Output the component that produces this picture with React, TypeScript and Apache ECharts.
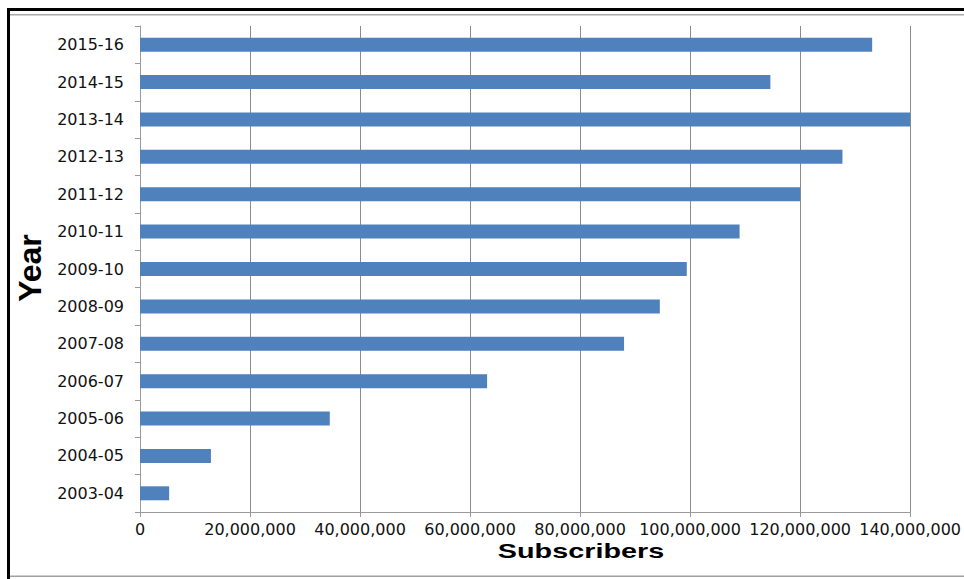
import React, { useEffect, useRef } from "react";
import * as echarts from "echarts";

const years = [
  "2003-04", "2004-05", "2005-06", "2006-07", "2007-08", "2008-09", "2009-10",
  "2010-11", "2011-12", "2012-13", "2013-14", "2014-15", "2015-16",
];
const subscribers = [
  5300000, 12900000, 34500000, 63100000, 88000000, 94500000, 99400000,
  109000000, 120000000, 127700000, 140000000, 114600000, 133100000,
];
const xTicks = [0, 20000000, 40000000, 60000000, 80000000, 100000000, 120000000, 140000000];
const xTitle = "Subscribers";
const yTitle = "Year";

const fmt = (v: number) => v.toLocaleString("en-US");

export default function App() {
  const ref = useRef<HTMLDivElement>(null);
  useEffect(() => {
    document.body.style.margin = "0";
    const chart = echarts.init(ref.current!, null, { renderer: "svg" });
    chart.setOption({
      animation: false,
      backgroundColor: "#ffffff",
      grid: { left: 140, right: 51, top: 26, bottom: 67, containLabel: false },
      xAxis: {
        type: "value",
        min: xTicks[0],
        max: xTicks[xTicks.length - 1],
        interval: xTicks[1] - xTicks[0],
        axisLine: { show: true, lineStyle: { color: "#9a9a9a", width: 1 } },
        axisTick: { show: true, length: 5, lineStyle: { color: "#9a9a9a" } },
        axisLabel: {
          formatter: (v: number) => fmt(v),
          color: "#111",
          fontFamily: "DejaVu Sans",
          fontSize: 16,
          margin: 9,
          showMaxLabel: true,
          showMinLabel: true,
        },
        splitLine: { show: true, lineStyle: { color: "#8c8c8c", width: 1 } },
      },
      yAxis: {
        type: "category",
        data: years,
        boundaryGap: true,
        axisLine: { show: true, lineStyle: { color: "#9a9a9a", width: 1 } },
        axisTick: { show: true, length: 5, inside: false, lineStyle: { color: "#9a9a9a" } },
        axisLabel: {
          color: "#111",
          fontFamily: "DejaVu Sans",
          fontSize: 16,
          margin: 16,
        },
        splitLine: { show: false },
      },
      series: [
        {
          type: "bar",
          data: subscribers,
          barWidth: 14,
          itemStyle: { color: "#4f81bd" },
        },
      ],
      graphic: [
        { type: "rect", shape: { x: 7, y: 8, width: 957, height: 3 }, style: { fill: "#000" }, silent: true },
        { type: "rect", shape: { x: 7, y: 8, width: 3, height: 571 }, style: { fill: "#000" }, silent: true },
        { type: "rect", shape: { x: 10, y: 14, width: 954, height: 1.5 }, style: { fill: "#a8a8a8" }, silent: true },
        { type: "rect", shape: { x: 10, y: 575.5, width: 954, height: 1.5 }, style: { fill: "#a0a0a0" }, silent: true },
        {
          type: "text",
          x: 581,
          y: 551,
          scaleX: 1.44,
          style: {
            text: xTitle,
            fontFamily: "Liberation Sans",
            fontWeight: "bold",
            fontSize: 20,
            fill: "#000",
            align: "center",
            verticalAlign: "middle",
          },
        },
        {
          type: "text",
          x: 30,
          y: 268,
          rotation: Math.PI / 2,
          style: {
            text: yTitle,
            fontFamily: "Liberation Sans",
            fontWeight: "bold",
            fontSize: 32,
            fill: "#000",
            align: "center",
            verticalAlign: "middle",
          },
        },
      ],
    });
    return () => chart.dispose();
  }, []);
  return <div ref={ref} style={{ width: 964, height: 579 }} />;
}
